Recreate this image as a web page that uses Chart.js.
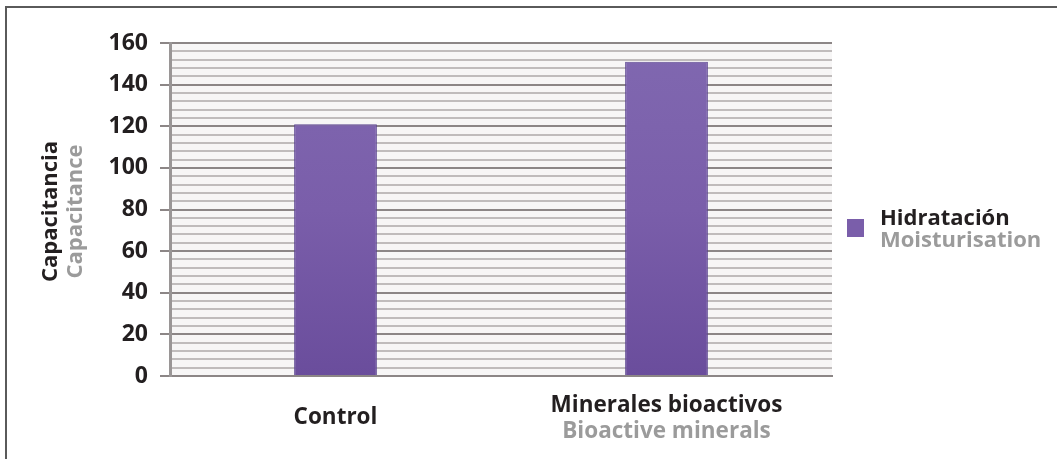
<!DOCTYPE html>
<html>
<head>
<meta charset="utf-8">
<script src="https://cdn.jsdelivr.net/npm/chart.js@4/dist/chart.umd.min.js"></script>
<style>
  html, body { margin: 0; padding: 0; background: #fff; }
  #wrap { position: relative; width: 1057px; height: 459px; }
  #frame { position: absolute; left: 5px; top: 6px; right: 0; bottom: 0;
           border-left: 2px solid #5a5a5a; border-top: 2px solid #5a5a5a; }
  canvas { position: absolute; left: 0; top: 0; }
</style>
</head>
<body>
<div id="wrap">
  <div id="frame"></div>
  <canvas id="grafico" width="1057" height="459"></canvas>
</div>
<script>
// datos
const categorias = ["Control", "Minerales bioactivos"];
const categoriasEn = ["", "Bioactive minerals"];
const hidratacion = [121, 151];
const serieEs = "Hidratación";
const serieEn = "Moisturisation";
const tituloY = "Capacitancia";
const tituloYEn = "Capacitance";
const yMin = 0, yMax = 160, pasoMenor = 4, pasoMayor = 20;

const NEGRO = "#231f20";
const GRIS = "#9b9b9b";
const MORADO = "#7a5eaa";
const FUENTE = "'Open Sans', Lato, sans-serif";

// textos extra: etiquetas bilingues, titulo del eje y leyenda
const textos = {
  id: "textos",
  afterDraw(chart) {
    const c = chart.ctx;
    const x = chart.scales.x;
    c.save();
    c.font = "bold 22.5px " + FUENTE;
    c.textAlign = "center";
    c.textBaseline = "alphabetic";
    categorias.forEach((cat, i) => {
      const px = x.getPixelForValue(i);
      if (categoriasEn[i]) {
        c.fillStyle = NEGRO;
        c.fillText(cat, px, 412);
        c.fillStyle = GRIS;
        c.fillText(categoriasEn[i], px, 438);
      } else {
        c.fillStyle = NEGRO;
        c.fillText(cat, px, 424);
      }
    });

    // titulo eje y
    const area = chart.chartArea;
    const cy = (area.top + area.bottom) / 2 + 2;
    c.save();
    c.translate(57, cy);
    c.rotate(-Math.PI / 2);
    c.font = "bold 22px " + FUENTE;
    c.fillStyle = NEGRO;
    c.fillText(tituloY, 0, 0);
    c.restore();
    c.save();
    c.translate(82, cy);
    c.rotate(-Math.PI / 2);
    c.font = "bold 22px " + FUENTE;
    c.fillStyle = GRIS;
    c.fillText(tituloYEn, 0, 0);
    c.restore();

    // leyenda
    c.fillStyle = MORADO;
    c.fillRect(847, 219, 17, 18);
    c.textAlign = "left";
    c.font = "bold 22px " + FUENTE;
    c.fillStyle = NEGRO;
    c.fillText(serieEs, 880, 225);
    c.fillStyle = GRIS;
    c.fillText(serieEn, 880, 247);
    c.restore();
  }
};

// fondo del area del grafico
const fondo = {
  id: "fondo",
  beforeDraw(chart) {
    const a = chart.chartArea;
    chart.ctx.save();
    chart.ctx.fillStyle = "#f7f6f6";
    chart.ctx.fillRect(a.left, a.top, a.right - a.left, a.bottom - a.top);
    chart.ctx.restore();
  }
};

function degradado(context) {
  const chart = context.chart;
  const a = chart.chartArea;
  if (!a) return MORADO;
  const g = chart.ctx.createLinearGradient(0, a.top, 0, a.bottom);
  g.addColorStop(0, "#8068b0");
  g.addColorStop(0.5, "#7a5eaa");
  g.addColorStop(1, "#6a4d9c");
  return g;
}

new Chart(document.getElementById("grafico"), {
  type: "bar",
  data: {
    labels: categorias,
    datasets: [{
      label: serieEs,
      data: hidratacion,
      backgroundColor: degradado,
      borderColor: "#5b4590",
      borderWidth: 1,
      barPercentage: 0.25,
      categoryPercentage: 1
    }]
  },
  options: {
    responsive: false,
    animation: false,
    layout: { padding: { top: 43, right: 225, bottom: 0, left: 0 } },
    plugins: {
      legend: { display: false },
      tooltip: { enabled: false }
    },
    scales: {
      x: {
        grid: { display: false },
        border: { color: "#8c8686", width: 2 },
        ticks: { display: false },
        afterFit(scale) { scale.height = 83; }
      },
      y: {
        min: yMin,
        max: yMax,
        ticks: {
          stepSize: pasoMenor,
          maxTicksLimit: 60,
          autoSkip: false,
          padding: 12,
          color: NEGRO,
          font: { family: FUENTE, size: 23, weight: "bold" },
          callback: v => (v % pasoMayor === 0 ? v : "")
        },
        grid: {
          color: ctx => (ctx.tick && ctx.tick.value % pasoMayor === 0 ? "#8c8686" : "#c0bcbc"),
          tickColor: ctx => (ctx.tick && ctx.tick.value % pasoMayor === 0 ? "#8c8686" : "rgba(0,0,0,0)"),
          lineWidth: 2,
          tickLength: 10
        },
        border: { color: "#9a9696", width: 3 },
        afterFit(scale) { scale.width = 170; }
      }
    }
  },
  plugins: [fondo, textos]
});
</script>
</body>
</html>
